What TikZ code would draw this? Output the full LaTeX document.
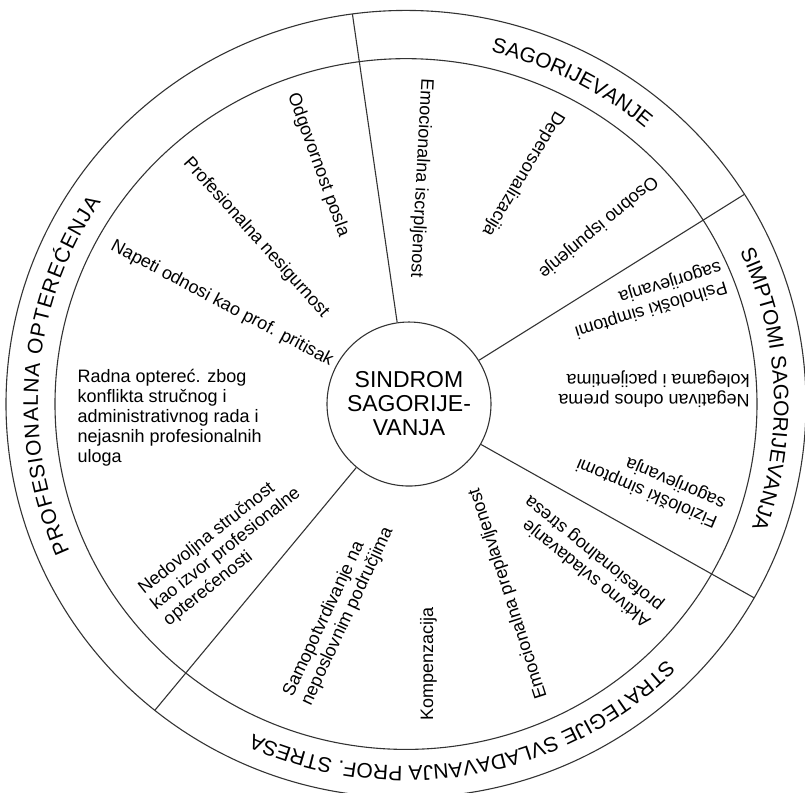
\documentclass[tikz,border=0pt]{standalone}
\usepackage{fontspec}
\setmainfont{Liberation Sans}
\usetikzlibrary{decorations.text}
\newcommand{\bandfont}{\fontsize{21}{21}\selectfont}

\begin{document}
\begin{tikzpicture}[x=1pt, y=0.984pt, line width=1.1pt,
    item/.style={font=\fontsize{18}{20}\selectfont, align=left, inner sep=0pt},
    band/.style={decorate, decoration={text along path, text align=center, text={|\bandfont|#1}}}]
  \useasboundingbox (-406,-394.3) rectangle (399,410.6);

  % outer band and inner ring
  \draw[black!80] (0,0) circle[radius=400];
  \draw[black!80] (0,0) circle[radius=351];
  \node[circle, draw=black!80, minimum size=164pt, inner sep=0pt, align=center,
        font=\fontsize{23}{24}\selectfont] (core) at (3,0) {SINDROM\\SAGORIJE-\\VANJA};

  % dividers between the four groups
  \coordinate (rimA) at (97.7:400);
  \coordinate (rimB) at (32.2:400);
  \coordinate (rimC) at (-29.5:400);
  \coordinate (rimD) at (-128.9:400);
  \draw[black!80] (core) -- (rimA);
  \draw[black!80] (core) -- (rimB);
  \draw[black!80] (core) -- (rimC);
  \draw[black!80] (core) -- (rimD);

  % group titles, read clockwise
  \path[band=SAGORIJEVANJE] (93:368) arc[start angle=93, end angle=33, radius=368];
  \path[band=SIMPTOMI SAGORIJEVANJA] (31:368) arc[start angle=31, end angle=-26, radius=368];
  \path[band=STRATEGIJE SVLADAVANJA PROF. STRESA] (-30:368) arc[start angle=-30, end angle=-129.4, radius=368];
  \path[band=PROFESIONALNA OPTEREĆENJA, decoration={text align=fit to path}]
    (204:368) arc[start angle=204, end angle=146, radius=368];

  % sagorijevanje
  \node[item, rotate=-93] (exhaust) at (15,229.7) {Emocionalna iscrpljenost};
  \node[item, rotate=-121] (depers) at (117,233.7) {Depersonalizacija};
  \node[item, rotate=-140] (fulfil) at (192,179.9) {Osobno ispunjenje};

  % simptomi
  \node[item, rotate=197] (psych) at (242,106.7) {Psihološki simptomi\\sagorijevanja};
  \node[item, rotate=180] (attitude) at (248,15.2) {Negativan odnos prema\\kolegama i pacijentima};
  \node[item, rotate=157] (physio) at (245,-80.3) {Fiziološki simptomi\\sagorijevanja};

  % strategije
  \node[item, rotate=141] (active) at (182,-159.6) {Aktivno svladavanje\\profesionalnog stresa};
  \node[item, rotate=108] (flood) at (102.5,-192.6) {Emocionalna preplavljenost};
  \node[item, rotate=90] (compens) at (22.5,-264.2) {Kompenzacija};
  \node[item, rotate=65] (selfaff) at (-67.5,-211.4) {Samopotvrdivanje na\\neposlovnim područjima};

  % profesionalna opterećenja
  \node[item, rotate=38.5] (lacking) at (-180,-147.4) {Nedovoljna stručnost\\kao izvor profesionalne\\opterećenosti};
  \node[item, anchor=west] (workload) at (-329,-13.7) {Radna optereć. zbog\\konflikta stručnog i\\administrativnog rada i\\nejasnih profesionalnih\\uloga};
  \node[item, rotate=-28] (tension) at (-184,102.1) {Napeti odnosi kao prof. pritisak};
  \node[item, rotate=-48] (insecure) at (-150,169.2) {Profesionalna nesigurnost};
  \node[item, rotate=-70] (duty) at (-88,242.9) {Odgovornost posla};
\end{tikzpicture}
\end{document}
